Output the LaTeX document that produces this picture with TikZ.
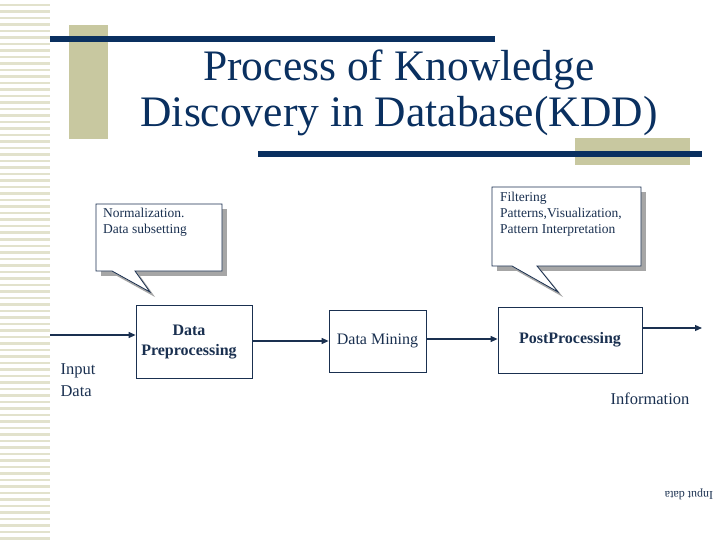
\documentclass[tikz,border=0pt]{standalone}
\usepackage{fontspec}
\setmainfont{Liberation Serif}
\usetikzlibrary{arrows.meta}
\definecolor{navy}{HTML}{0A3060}
\definecolor{khaki}{HTML}{C8C8A0}
\definecolor{stripe}{HTML}{E2E2CC}
\definecolor{txt}{HTML}{1A3050}
\tikzset{
  box/.style={draw=txt,fill=white,line width=0.8pt},
  lbl/.style={font=\fontsize{16}{20}\selectfont,text=txt,align=center},
  ctxt/.style={font=\fontsize{13.5}{16}\selectfont,text=txt,align=left,anchor=north west,inner sep=0},
  flow/.style={-{Triangle[length=7pt,width=6pt]},draw=txt,line width=1.2pt}
}
\begin{document}
\begin{tikzpicture}[x=1pt,y=-1pt]
\useasboundingbox (0,0) rectangle (720,540);
\fill[white] (0,0) rectangle (720,540);
\foreach \i in {0,...,82} {
  \fill[stripe] (0,4+6.5*\i) rectangle (50,6.5+6.5*\i);
}
\fill[khaki] (69,25) rectangle (108,139);
\fill[navy] (50,36) rectangle (495,42);
\fill[khaki] (575,138) rectangle (690,165);
\fill[navy] (258,151) rectangle (702,157);
\node[font=\fontsize{43.5}{46}\selectfont,text=navy,align=center] (title) at (399,93) {Process of Knowledge\\Discovery in Database(KDD)};
% callout 1
\fill[gray!70] (101,209) rectangle (227,276);
\fill[gray!70] (117,276)--(155,297)--(140,276)--cycle;
\draw[box] (96,204) -- (222,204) -- (222,271) -- (135,271) -- (150,292) -- (112,271) -- (96,271) -- cycle;
\node[ctxt] (c1) at (103,208) {Normalization.\\Data subsetting};
% callout 2
\fill[gray!70] (497,192) rectangle (646,271);
\fill[gray!70] (517,271)--(563,297)--(542,271)--cycle;
\draw[box] (492,187) -- (641,187) -- (641,266) -- (537,266) -- (558,292) -- (512,266) -- (492,266) -- cycle;
\node[ctxt] (c2) at (500,192) {Filtering\\Patterns,Visualization,\\Pattern Interpretation};
% boxes
\node[box,minimum width=116pt,minimum height=73pt] (dp) at (194,341.5) {};
\node[lbl,font=\fontsize{16}{20}\selectfont\bfseries] (dpt) at (189,342) {Data\\Preprocessing};
\node[box,minimum width=97pt,minimum height=62pt,lbl] (dm) at (377.5,341) {Data Mining};
\node[box,minimum width=144pt,minimum height=66pt,lbl,font=\fontsize{16}{20}\selectfont\bfseries] (pp) at (570,340) {PostProcessing};
\coordinate (in) at (50,335);
\coordinate (out) at (702,328);
\draw[flow] (in) -- (in -| dp.west);
\draw[flow] (dp.east |- 0,341) -- (dm.west |- 0,341);
\draw[flow] (dm.east |- 0,339) -- (pp.west |- 0,339);
\draw[flow] (pp.east |- out) -- (out);
\node[lbl,align=left,anchor=west,font=\fontsize{16.5}{22}\selectfont] (inp) at (57,380) {Input\\Data};
\node[lbl,font=\fontsize{16.5}{20}\selectfont] (info) at (650,399) {Information};
\node[font=\fontsize{12}{14}\selectfont,text=txt,rotate=180] (rev) at (689,494) {Input data};
\end{tikzpicture}
\end{document}
